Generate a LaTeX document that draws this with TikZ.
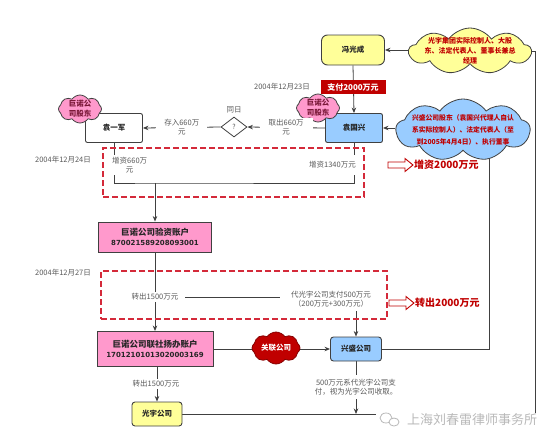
\documentclass[tikz,border=0pt]{standalone}
\usepackage{fontspec}
\setmainfont{Noto Sans CJK SC}
\newfontfamily\numfont{DejaVu Sans}
\usetikzlibrary{shapes.geometric,shapes.symbols,arrows.meta,backgrounds,calc}
\definecolor{yel}{HTML}{FFFF99}
\definecolor{blu}{HTML}{99CCFF}
\definecolor{pnk}{HTML}{FF99CC}
\definecolor{dred}{HTML}{C00000}
\definecolor{dashred}{HTML}{D42A3A}
\definecolor{lc}{HTML}{404040}
\definecolor{tc}{HTML}{595959}
\definecolor{ptc}{HTML}{7A1838}
\begin{document}
\begin{tikzpicture}[x=1pt,y=-1pt,
  line/.style={draw=lc, line width=0.8pt},
  arr/.style={line, -{Stealth[length=5.5pt,width=4.5pt]}},
  box/.style={draw=lc, line width=0.9pt, rounded corners=2pt, font=\bfseries\fontsize{7.5}{10}\selectfont, text=black!85, align=center, inner sep=0pt},
  acct/.style={box, rounded corners=0pt, fill=pnk, font=\bfseries\fontsize{8.5}{10.5}\selectfont},
  lab/.style={font=\fontsize{7.5}{9}\selectfont, text=tc, align=center, fill=white, inner sep=2pt},
  date/.style={font=\fontsize{7.5}{9}\selectfont, text=tc},
  cld/.style={cloud, cloud puffs=9, cloud puff arc=110, cloud ignores aspect, draw=lc, line width=0.8pt, inner sep=0pt},
  ctext/.style={font=\bfseries\fontsize{7}{10}\selectfont, text=dred, align=center},
  ptext/.style={font=\bfseries\fontsize{7.5}{10}\selectfont, text=ptc, align=center},
  dbox/.style={draw=dashred, line width=1.1pt, dash pattern=on 6pt off 3pt, inner sep=0pt},
  big/.style={font=\bfseries\fontsize{10}{12}\selectfont, text=dred, anchor=west, inner sep=1pt},
  hollow/.style={draw=dred, line width=0.9pt, fill=white}
]
\useasboundingbox (0,0) rectangle (554,445);

% ---- nodes ----
\node[box, fill=yel, minimum width=63, minimum height=30, rounded corners=6pt] (fgc) at (353,50) {冯光成};
\node[cld, fill=yel, minimum width=122, minimum height=46] (c1) at (470,51) {};
\node[ctext] at (c1) {光宇集团实际控制人、大股\\东、法定代表人、董事长兼总\\经理};

\node[box, fill=blu, minimum width=57, minimum height=29] (ygx) at (354,128) {袁国兴};
\node[cld, fill=blu, minimum width=134, minimum height=62] (c2) at (463,130) {};
\node[ctext, font=\bfseries\fontsize{6.8}{12}\selectfont] at (c2) {兴盛公司股东（袁国兴代理人自认\\系实际控制人）、法定代表人（至\\到2005年4月4日）、执行董事};

\node[box, fill=white, minimum width=57, minimum height=29] (yyj) at (114,128) {袁一军};
\node[cld, cloud puffs=8, fill=pnk, minimum width=43, minimum height=28] (p1) at (80,109) {};
\node[ptext] at (p1) {巨诺公\\司股东};
\node[cld, cloud puffs=8, fill=pnk, minimum width=43, minimum height=28] (p2) at (318,108) {};
\node[ptext] at (p2) {巨诺公\\司股东};

\node[diamond, draw=lc, line width=0.8pt, fill=white, minimum width=26, minimum height=20, inner sep=0pt, font=\fontsize{7}{8}\selectfont, text=tc] (q) at (234,127) {?};
\node[date] (tr) at (234,110) {同日};

\node[acct, minimum width=113, minimum height=30] (yz) at (155,237) {巨诺公司验资账户\\{\numfont\fontsize{7}{10.5}\selectfont 870021589208093001}};
\node[acct, minimum width=116, minimum height=35] (ls) at (155,349) {巨诺公司联社扬办账户\\{\numfont\fontsize{7}{10.5}\selectfont 17012101013020003169}};
\node[box, fill=blu, minimum width=51, minimum height=24, rounded corners=3pt] (xs) at (356,349) {兴盛公司};
\node[cld, cloud puffs=8, fill=dred, draw=dred!70!black, minimum width=48, minimum height=32] (rc) at (276,348) {};
\node[font=\bfseries\fontsize{7.5}{9}\selectfont, text=white] at (rc) {关联公司};
\node[box, fill=yel, minimum width=50, minimum height=24, rounded corners=3pt] (gy) at (157,414) {光宇公司};

\node[dbox, minimum width=261, minimum height=49] (d1) at (233.5,172.5) {};
\node[dbox, minimum width=286, minimum height=48] (d2) at (244,295) {};

\coordinate (j1) at (155,183);
\coordinate (j2) at (155,297);
\coordinate (rcor) at (535,414);
\coordinate (j3) at (xs.south |- gy.east);

% ---- connectors ----
\begin{scope}[on background layer]
\draw[arr] (c1.west |- fgc.east) -- (fgc.east);
\draw[line] (c1.east) -| (rcor) -- (gy.east);
\draw[arr] (fgc.south) -- (ygx.north);
\draw[arr] (c2.west |- ygx.east) -- (ygx.east);
\draw[line] (xs.east) -| ($(c2.south)+(26,0)$);
\draw[arr] (ygx.west) -- (q.east);
\draw[arr] (q.west) -- (yyj.east);
\draw[line] (yyj.south) |- (j1) -| (ygx.south);
\draw[arr] (j1) -- (yz.north);
\draw[arr] (yz.south) -- (ls.north);
\draw[arr] (j2) -| (xs.north);
\draw[arr] (ls.east) -- (xs.west);
\draw[arr] (gy.north |- ls.south) -- (gy.north);
\draw[arr] (xs.south) -- (j3);
\end{scope}

% ---- connector labels ----
\node[fill=dred, text=white, font=\bfseries\fontsize{8}{9}\selectfont, minimum width=65, minimum height=14, inner sep=0pt] at (353,87) {支付2000万元};
\node[lab, inner xsep=9pt] at ($(ygx.west)!0.5!(q.east)$) {取出660万\\元};
\node[lab, inner xsep=8pt] at ($(q.west)!0.5!(yyj.east)$) {存入660万\\元};
\node[lab, anchor=west, minimum height=20] at (110,165) {增资660万\\元};
\node[lab, anchor=east, minimum height=20] at (358,165) {增资1340万元};
\node[lab, inner xsep=7pt] at (j2) {转出1500万元};
\node[lab, inner xsep=11pt, inner ysep=4pt] at (331,299) {代光宇公司支付500万元\\（200万元+300万元）};
\node[lab, inner xsep=5pt] at (156,384) {转出1500万元};
\node[lab, inner ysep=3.5pt] at (356,387) {500万元系代光宇公司支\\付，视为光宇公司收取。};

% ---- dates ----
\node[date] at (282,87) {2004年12月23日};
\node[date] at (63,160) {2004年12月24日};
\node[date] at (63,273) {2004年12月27日};

% ---- hollow arrows ----
\draw[hollow] (388,162) -- (405,162) -- (405,158.5) -- (413,165) -- (405,171.5) -- (405,168) -- (388,168) -- cycle;
\node[big] at (413,165) {增资2000万元};
\draw[hollow] (389,300) -- (406,300) -- (406,296.5) -- (414,303) -- (406,309.5) -- (406,306) -- (389,306) -- cycle;
\node[big] at (414,303) {转出2000万元};

% ---- watermark ----
\node[fill=white, inner sep=1pt, font=\fontsize{13}{14}\selectfont, text=gray!55] (wm) at (472,420) {上海刘春雷律师事务所};
\fill[white] (376,410) rectangle (406,430);
\draw[gray!55, line width=0.8pt] (386,418) ellipse [x radius=6, y radius=5];
\draw[gray!55, line width=0.8pt, fill=white] (394,422) ellipse [x radius=5, y radius=4];
\end{tikzpicture}
\end{document}
